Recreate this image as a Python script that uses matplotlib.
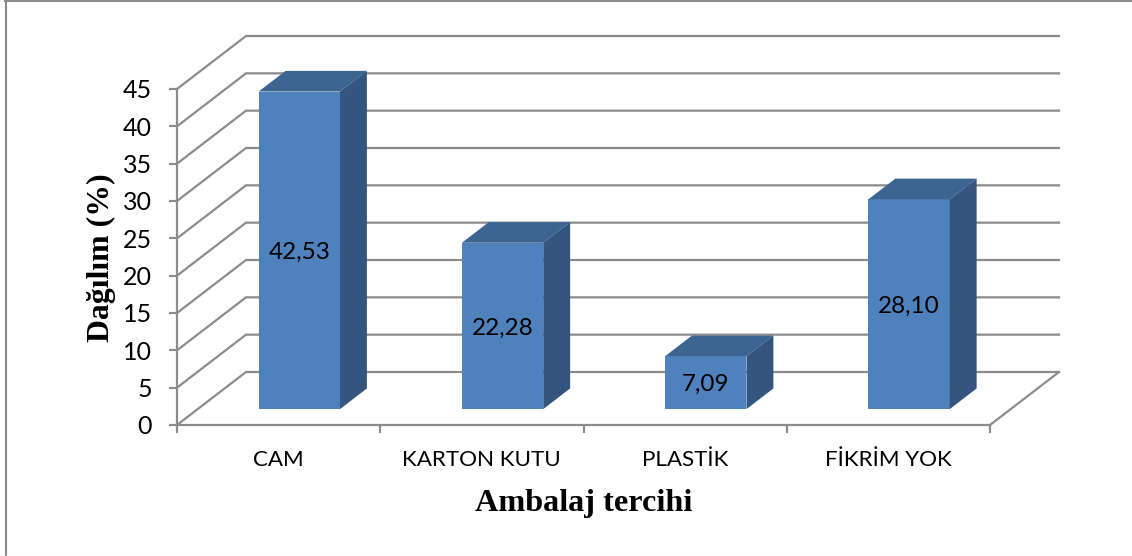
import matplotlib
matplotlib.use("Agg")
import matplotlib.pyplot as plt
from matplotlib.lines import Line2D
from matplotlib.patches import Polygon

categories = ["CAM", "KARTON KUTU", "PLASTİK", "FİKRİM YOK"]
values = [42.53, 22.28, 7.09, 28.10]
value_labels = ["42,53", "22,28", "7,09", "28,10"]
y_ticks = [0, 5, 10, 15, 20, 25, 30, 35, 40, 45]

W, H = 1132, 556
GRID = "#8c8c8c"
FRONT, TOP, SIDE = "#4f81bd", "#3d6592", "#335580"

# depth of the 3d box, in data units (69 px across, 53 px up)
DX = 69 / 203.25
DY = 53 / 7.467
BAR_W = 0.4
D_FRONT, D_BACK = 0.30, 0.69

fig = plt.figure(figsize=(W / 100, H / 100), dpi=100)

# page frame: no right edge, bottom one nearly gone
fig.add_artist(Line2D([5.5 / W, 5.5 / W], [0, 1], color="#8a8a8a", lw=1.5))
fig.add_artist(Line2D([5 / W, 1], [1 - 0.7 / H, 1 - 0.7 / H], color="#8a8a8a", lw=1.5))
fig.add_artist(Line2D([0, 1], [1 - 555.5 / H, 1 - 555.5 / H], color="#eeeeee", lw=1))

ax = fig.add_axes([177 / W, 1 - 425 / H, 813 / W, 336 / H])
ax.set_xlim(0, 4)
ax.set_ylim(0, 45)
ax.patch.set_visible(False)
for s in ["top", "right"]:
	ax.spines[s].set_visible(False)
for s in ["left", "bottom"]:
	ax.spines[s].set_color(GRID)
	ax.spines[s].set_linewidth(1.6)

# back wall grid, left wall and floor
for v in y_ticks:
	ax.plot([0, DX, 4 + DX], [v, v + DY, v + DY], color=GRID, lw=1.6, clip_on=False, zorder=1,
		solid_joinstyle="miter")
ax.plot([4, 4 + DX], [0, DY], color=GRID, lw=1.6, clip_on=False, zorder=1)

# bars: front face plus skewed top and side
for i, val in enumerate(values):
	x0 = i + 0.5 - BAR_W / 2 + D_FRONT * DX
	x1 = x0 + BAR_W
	y0 = D_FRONT * DY
	y1 = y0 + val
	sx = (D_BACK - D_FRONT) * DX
	sy = (D_BACK - D_FRONT) * DY
	ax.bar(x0, val, BAR_W, bottom=y0, align="edge", color=FRONT, zorder=3)
	ax.add_patch(Polygon([(x0, y1), (x1, y1), (x1 + sx, y1 + sy), (x0 + sx, y1 + sy)],
		fc=TOP, ec="none", clip_on=False, zorder=3))
	ax.add_patch(Polygon([(x1, y0), (x1, y1), (x1 + sx, y1 + sy), (x1 + sx, y0 + sy)],
		fc=SIDE, ec="none", clip_on=False, zorder=3))
	ax.text((x0 + x1) / 2, y0 + val / 2 - 0.27, value_labels[i], ha="center", va="center",
		family="Lato", fontsize=17.5, color="black", zorder=4)

ax.set_yticks(y_ticks)
ax.set_xticks(range(5))
ax.set_xticklabels([])
ax.tick_params(axis="both", color=GRID, width=1.6, length=6)
ax.tick_params(axis="y", labelsize=18, pad=12)
for lab in ax.get_yticklabels():
	lab.set_family("Lato")

for i, c in enumerate(categories):
	ax.text(i + 0.5, -4.75, c, ha="center", va="center", family="Lato", fontsize=16.1, color="black")

fig.text(584 / W, 1 - 503 / H, "Ambalaj tercihi", ha="center", va="center",
	family="Liberation Serif", weight="bold", fontsize=23.2)
fig.text(101 / W, 1 - 258 / H, "Dağılım (%)", ha="center", va="center", rotation=90,
	family="Liberation Serif", weight="bold", fontsize=22.9)

fig.savefig("out.png", dpi=100)
